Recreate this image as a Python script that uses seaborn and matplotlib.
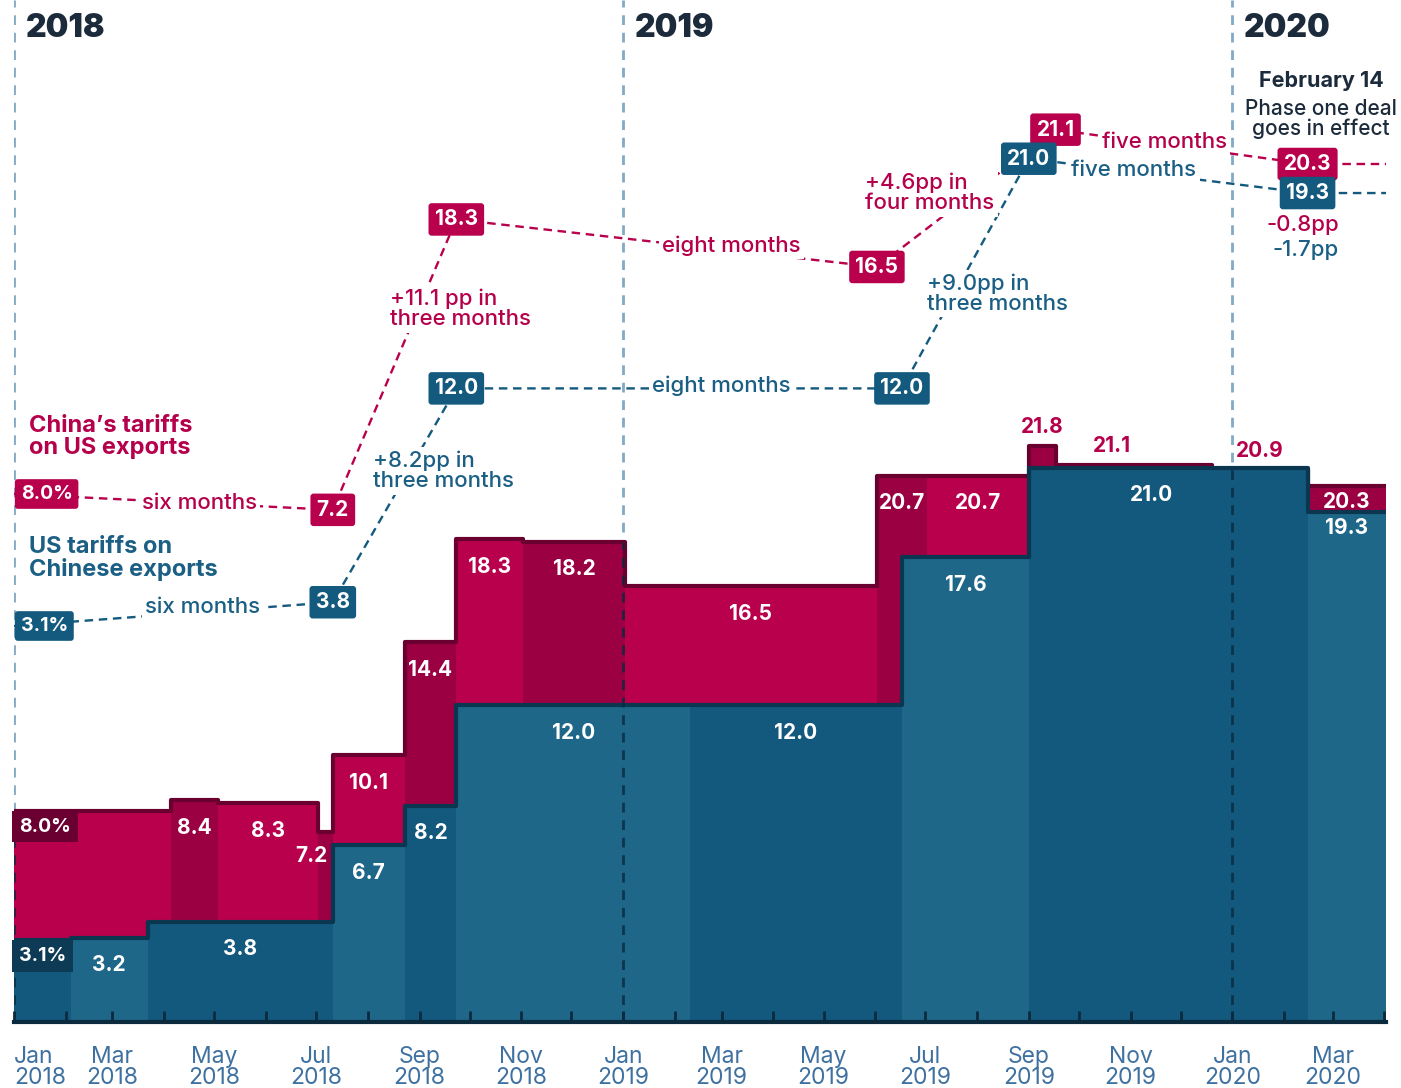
import matplotlib
matplotlib.use("Agg")
import matplotlib.pyplot as plt
import numpy as np
import pandas as pd
import seaborn as sns

# ========================================================================
# DATA
# ========================================================================
END_DATE = "2020-04-02"

# CHINA'S TARIFFS ON US EXPORTS (STEP VALUES, %)
china_dates = ["2018-01-01", "2018-04-05", "2018-05-03", "2018-07-02", "2018-07-11",
               "2018-08-23", "2018-09-23", "2018-11-02", "2019-01-02", "2019-06-02",
               "2019-07-02", "2019-09-01", "2019-09-17", "2019-12-20", "2020-02-15"]
china_values = [8.0, 8.4, 8.3, 7.2, 10.1, 14.4, 18.3, 18.2, 16.5, 20.7, 20.7, 21.8, 21.1, 20.9, 20.3]
china_shade = [0, 1, 0, 1, 0, 1, 0, 1, 0, 1, 0, 1, 1, 1, 1]

# US TARIFFS ON CHINESE EXPORTS (STEP VALUES, %)
us_dates = ["2018-01-01", "2018-02-04", "2018-03-22", "2018-07-11", "2018-08-23",
            "2018-09-23", "2019-02-10", "2019-06-17", "2019-09-01", "2020-02-15"]
us_values = [3.1, 3.2, 3.8, 6.7, 8.2, 12.0, 12.0, 17.6, 21.0, 19.3]
us_shade = [1, 0, 1, 0, 1, 0, 1, 0, 1, 0]

# CALLOUT BOXES (UPPER PART)
china_call_dates = ["2018-01-01", "2018-07-11", "2018-09-23", "2019-06-02", "2019-09-17", "2020-02-15"]
china_call_labels = ["8.0%", "7.2", "18.3", "16.5", "21.1", "20.3"]
china_call_notes = ["six months", "+11.1 pp in\nthree months", "eight months",
                    "+4.6pp in\nfour months", "five months"]
us_call_dates = ["2018-01-01", "2018-07-11", "2018-09-23", "2019-06-17", "2019-09-01", "2020-02-15"]
us_call_labels = ["3.1%", "3.8", "12.0", "12.0", "21.0", "19.3"]
us_call_notes = ["six months", "+8.2pp in\nthree months", "eight months",
                 "+9.0pp in\nthree months", "five months"]

year_labels = ["2018", "2019", "2020"]

# ========================================================================
# STYLE / LAYOUT
# ========================================================================
CRIMSON = ["#b8004c", "#9b0043"]
CRIMSON_EDGE = "#6a0030"
CRIMSON_TXT = "#b5004b"
BLUE = ["#1e6789", "#13587d"]
BLUE_EDGE = "#0b3650"
BLUE_TXT = "#1b5f85"
NAVY = "#0b2a3d"
YEAR_LINE = "#82a9c6"
DARK_TXT = "#1c2b3b"

# CALLOUT Y POSITIONS (ABOVE THE STEPS)
china_call_y = [20.0, 19.4, 30.4, 28.6, 33.8, 32.5]
us_call_y = [15.0, 15.9, 24.0, 24.0, 32.7, 31.4]
china_note_pos = [("2018-04-22", 19.66, "center"), ("2018-08-14", 27.0, "left"),
                  ("2019-03-07", 29.4, "center"), ("2019-05-26", 31.4, "left"),
                  ("2019-11-21", 33.33, "center")]
us_note_pos = [("2018-04-24", 15.72, "center"), ("2018-08-04", 20.87, "left"),
               ("2019-03-01", 24.09, "center"), ("2019-07-02", 27.58, "left"),
               ("2019-11-03", 32.27, "center")]

sns.set_theme(style="white")
plt.rcParams["font.family"] = ["Inter", "DejaVu Sans"]

fig = plt.figure(figsize=(14.01, 10.88), dpi=100)
ax = fig.add_axes([14 / 1401, 66 / 1088, 1372 / 1401, 1022 / 1088])
end = pd.Timestamp(END_DATE)


def draw_steps(dates, values, shade, colors, edge, z):
    d = list(pd.to_datetime(dates)) + [end]
    for i, v in enumerate(values):
        ax.fill_between([d[i], d[i + 1]], 0, v, color=colors[shade[i]], lw=0, zorder=z)
    df = pd.DataFrame({"date": d, "value": values + [values[-1]]})
    sns.lineplot(data=df, x="date", y="value", drawstyle="steps-post", color=edge,
                 lw=3, zorder=z + 0.5, ax=ax, solid_joinstyle="round")
    return d


def step_value_around(dates, values, when):
    d = pd.to_datetime(dates)
    out = []
    i_after = np.searchsorted(d, when, side="right") - 1
    i_before = np.searchsorted(d, when, side="left") - 1
    for i in (i_after, i_before):
        if 0 <= i < len(values):
            out.append(values[i])
    return max(out)


# YEAR LINES (LIGHT, BEHIND)
year_starts = [pd.Timestamp(f"{y}-01-01") for y in year_labels]
for ys in year_starts:
    ax.axvline(ys, color=YEAR_LINE, ls=(0, (3.5, 2.8)), lw=2, zorder=1)

# STEP AREAS
cd = draw_steps(china_dates, china_values, china_shade, CRIMSON, CRIMSON_EDGE, 2)
ud = draw_steps(us_dates, us_values, us_shade, BLUE, BLUE_EDGE, 4)

# YEAR LINES (DARK, INSIDE AREAS)
for ys in year_starts:
    h = max(step_value_around(china_dates, china_values, ys),
            step_value_around(us_dates, us_values, ys))
    ax.vlines(ys, 0, h, color="#082a3e", ls=(0, (3.5, 2.8)), lw=2, alpha=0.8, zorder=6)

# VALUE LABELS INSIDE THE AREAS
china_mode = {0: "box", 3: "left", 11: "above", 12: "above", 13: "above", 14: "tight"}
us_mode = {0: "box", 9: "tight"}
nudge = {("china", 12): -13, ("us", 8): -10}
lab_kw = dict(fontsize=15, fontweight="bold", ha="center", va="center", zorder=8)

for name, d, vals, mode, boxc in [("china", cd, china_values, china_mode, "#6a0032"),
                                  ("us", ud, us_values, us_mode, "#0d3b55")]:
    for i, v in enumerate(vals):
        m = mode.get(i, "in")
        mid = d[i] + (d[i + 1] - d[i]) / 2 + pd.Timedelta(days=nudge.get((name, i), 0))
        if m == "box":
            ax.text(d[i] + pd.Timedelta(days=3), v - 0.6, f"{v:.1f}%", color="white",
                    fontsize=14, fontweight="bold", ha="left", va="center", zorder=8,
                    bbox=dict(boxstyle="square,pad=0.35", fc=boxc, ec="none"))
        elif m == "left":
            ax.text(d[i] - pd.Timedelta(days=4), v - 0.9, f"{v:.1f}", color="white", **lab_kw)
        elif m == "above":
            ax.text(mid, v + 0.73, f"{v:.1f}", color=CRIMSON_TXT, **lab_kw)
        elif m == "tight":
            ax.text(mid, v - 0.6, f"{v:.1f}", color="white", **lab_kw)
        else:
            ax.text(mid, v - 1.05, f"{v:.1f}", color="white", **lab_kw)


# CALLOUTS
def draw_callouts(dates, labels, ys, notes, note_pos, color, txt_color):
    xs = list(pd.to_datetime(dates))
    ax.plot(xs + [end], ys + [ys[-1]], color=color, lw=1.7, ls=(0, (3.6, 2.4)), zorder=3)
    box = dict(boxstyle="round,pad=0.3,rounding_size=0.15", fc=color, ec="none")
    for i, (x, y, lab) in enumerate(zip(xs, ys, labels)):
        if i == 0:
            ax.text(x + pd.Timedelta(days=4), y, lab, color="white", fontsize=14,
                    fontweight="bold", ha="left", va="center", zorder=10, bbox=box)
        else:
            ax.text(x, y, lab, color="white", fontsize=15, fontweight="bold",
                    ha="center", va="center", zorder=10, bbox=box)
    for note, (nx, ny, ha) in zip(notes, note_pos):
        ax.text(pd.Timestamp(nx), ny, note, color=txt_color, fontsize=16, fontweight="medium",
                ha=ha, va="center", linespacing=1.0, zorder=9,
                bbox=dict(boxstyle="square,pad=0.15", fc="white", ec="none"))


draw_callouts(china_call_dates, china_call_labels, china_call_y, china_call_notes,
              china_note_pos, "#b8004c", CRIMSON_TXT)
draw_callouts(us_call_dates, us_call_labels, us_call_y, us_call_notes,
              us_note_pos, "#135a7e", BLUE_TXT)

ax.text(pd.Timestamp("2020-02-12"), 30.19, "-0.8pp", color=CRIMSON_TXT, fontsize=16,
        fontweight="medium", ha="center", va="center", zorder=9)
ax.text(pd.Timestamp("2020-02-14"), 29.24, "-1.7pp", color=BLUE_TXT, fontsize=16,
        fontweight="medium", ha="center", va="center", zorder=9)
ax.text(pd.Timestamp("2020-02-23"), 35.64, "February 14", color=DARK_TXT, fontsize=15.5,
        fontweight="bold", ha="center", va="center", zorder=9)
ax.text(pd.Timestamp("2020-02-23"), 34.2, "Phase one deal\ngoes in effect", color=DARK_TXT,
        fontsize=15, fontweight="medium", ha="center", va="center", linespacing=0.95, zorder=9,
        bbox=dict(boxstyle="square,pad=0.1", fc="white", ec="none"))

# SERIES TITLES
ax.text(pd.Timestamp("2018-01-10"), 22.16, "China’s tariffs\non US exports", color=CRIMSON_TXT,
        fontsize=17, fontweight="bold", ha="left", va="center", linespacing=1.0)
ax.text(pd.Timestamp("2018-01-10"), 17.54, "US tariffs on\nChinese exports", color=BLUE_TXT,
        fontsize=17, fontweight="bold", ha="left", va="center", linespacing=1.0)

# YEAR HEADERS
for ys, lab in zip(year_starts, year_labels):
    ax.text(ys + pd.Timedelta(days=7), 37.62, lab, color=DARK_TXT, fontsize=23,
            fontweight="black", ha="left", va="center")

# AXES
ax.set_xlim(pd.Timestamp("2018-01-01"), end)
ax.set_ylim(0, 1022 / 26.4)
ax.set_xlabel("")
ax.set_ylabel("")
ax.set_yticks([])
for s in ["top", "right", "left"]:
    ax.spines[s].set_visible(False)
ax.spines["bottom"].set_color(NAVY)
ax.spines["bottom"].set_linewidth(3)
ax.spines["bottom"].set_zorder(12)

major = pd.date_range("2018-01-01", END_DATE, freq="2MS")
minor = pd.date_range("2018-01-01", END_DATE, freq="MS")
ax.set_xticks(minor, minor=True)
ax.set_xticks(major)
labels = ax.set_xticklabels([t.strftime("%b\n%Y") for t in major], fontweight="normal")
for lab in labels:
    lab.set_linespacing(0.95)
labels[0].set_ha("left")
ax.tick_params(axis="x", which="both", direction="in", length=8, width=2, color=NAVY,
               labelsize=16.5, labelcolor="#3f71a0", pad=17, bottom=True)
ax.xaxis.set_zorder(12)

fig.savefig("out.png", dpi=100, facecolor="white")
